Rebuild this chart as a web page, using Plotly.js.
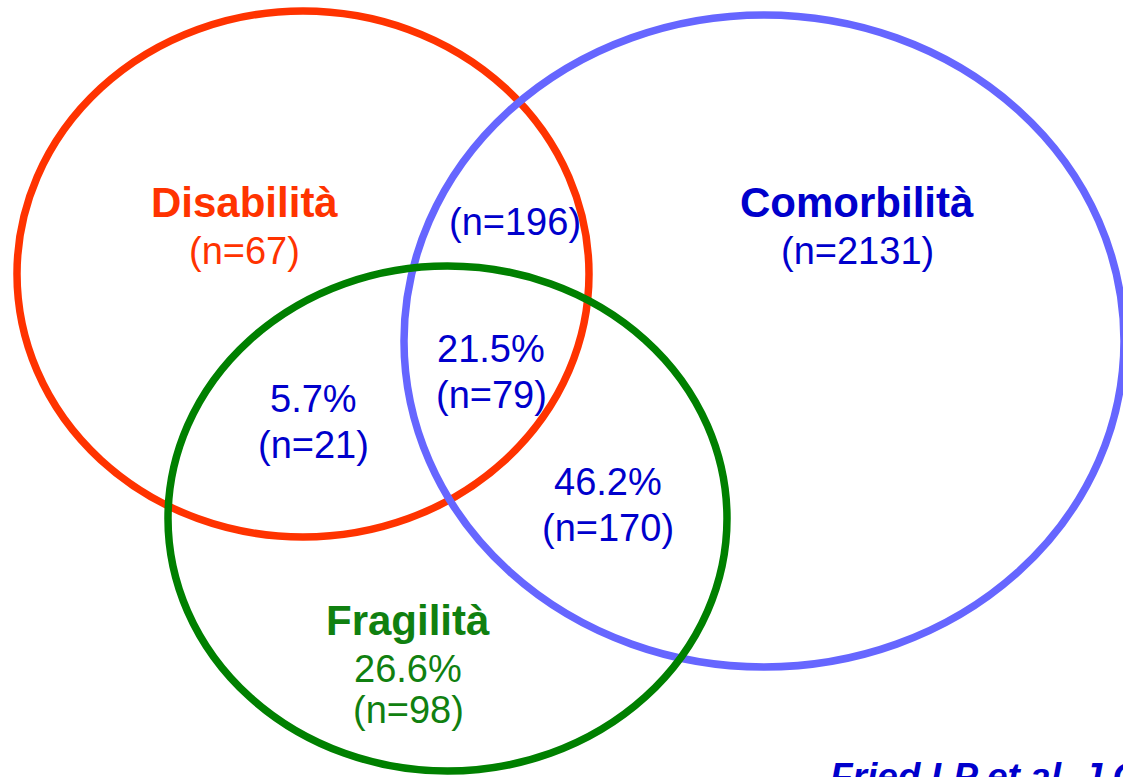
<!DOCTYPE html>
<html>
<head>
<meta charset="utf-8">
<script src="https://cdn.plot.ly/plotly-3.0.1.min.js"></script>
<style>
html,body{margin:0;padding:0;background:#fff;overflow:hidden;}
#chart{width:1123px;height:777px;}
</style>
</head>
<body>
<div id="chart"></div>
<script>
// ---- data ----
const setNames = ['Disabilità', 'Comorbilità', 'Fragilità'];
const setCounts = [67, 2131, 98];          // members in only that set
const setPcts = [null, null, 26.6];        // percentage shown for the set-only region
const overlapNames = ['Disabilità∩Comorbilità', 'Disabilità∩Fragilità', 'Tutti e tre', 'Fragilità∩Comorbilità'];
const overlapCounts = [196, 21, 79, 170];
const overlapPcts = [null, 5.7, 21.5, 46.2];
const citation = 'Fried LP et al. J Gerontol 2004';

// ---- styles / layout (pixel coordinates) ----
const ellipseColors = ['#ff3300', '#6666ff', '#008000'];
const textColors = ['#ff3300', '#0000cc', '#108010'];
const overlapColor = '#0000cc';
const ellipses = [
  {x0: 17, x1: 589, y0: 11, y1: 537},
  {x0: 404, x1: 1124, y0: 15, y1: 667},
  {x0: 168, x1: 727, y0: 266, y1: 771}
];
// baselines for set labels: [x, nameBaseline]
const setLabelPos = [[244, 217], [857, 217], [408, 635]];
// overlap label: [x, firstBaseline]
const overlapLabelPos = [[515, 235], [313, 412], [491, 362], [608, 495]];
const boldSize = 42, normSize = 38, lineGap = 47;
const font = 'Arial, "Liberation Sans", sans-serif';

function mid(baseline, size) { return baseline - 0.35 * size; }

const shapes = ellipses.map((e, i) => ({
  type: 'circle', xref: 'x', yref: 'y',
  x0: e.x0, x1: e.x1, y0: e.y0, y1: e.y1,
  line: {color: ellipseColors[i], width: 7.5},
  fillcolor: 'rgba(0,0,0,0)'
}));

const annotations = [];
function addText(txt, x, baseline, size, color, bold, italic, anchor) {
  annotations.push({
    xref: 'x', yref: 'y', x: x, y: mid(baseline, size),
    text: txt, showarrow: false,
    xanchor: anchor || 'center', yanchor: 'middle',
    font: {family: font, size: size, color: color,
           weight: bold ? 'bold' : 'normal', style: italic ? 'italic' : 'normal'}
  });
}

setNames.forEach((name, i) => {
  const [x, b] = setLabelPos[i];
  addText(name, x, b, boldSize, textColors[i], true);
  let line = b + lineGap;
  if (setPcts[i] !== null) {
    addText(setPcts[i].toFixed(1) + '%', x, line, normSize, textColors[i], false);
    line += lineGap - 6;
  }
  addText('(n=' + setCounts[i] + ')', x, line, normSize, textColors[i], false);
});

overlapCounts.forEach((n, i) => {
  const [x, b] = overlapLabelPos[i];
  let line = b;
  if (overlapPcts[i] !== null) {
    addText(overlapPcts[i].toFixed(1) + '%', x, line, normSize, overlapColor, false);
    line += lineGap - 1;
  }
  addText('(n=' + n + ')', x, line, normSize, overlapColor, false);
});

addText(citation, 828, 789, 37, '#0000cc', true, true, 'left');

const layout = {
  width: 1123, height: 777,
  margin: {l: 0, r: 0, t: 0, b: 0},
  paper_bgcolor: '#ffffff', plot_bgcolor: '#ffffff',
  xaxis: {range: [0, 1123], visible: false, fixedrange: true},
  yaxis: {range: [777, 0], visible: false, fixedrange: true},
  showlegend: false,
  shapes: shapes,
  annotations: annotations
};

Plotly.newPlot('chart', [{x: [], y: [], type: 'scatter', hoverinfo: 'skip'}], layout,
  {displayModeBar: false, staticPlot: true});
</script>
</body>
</html>
